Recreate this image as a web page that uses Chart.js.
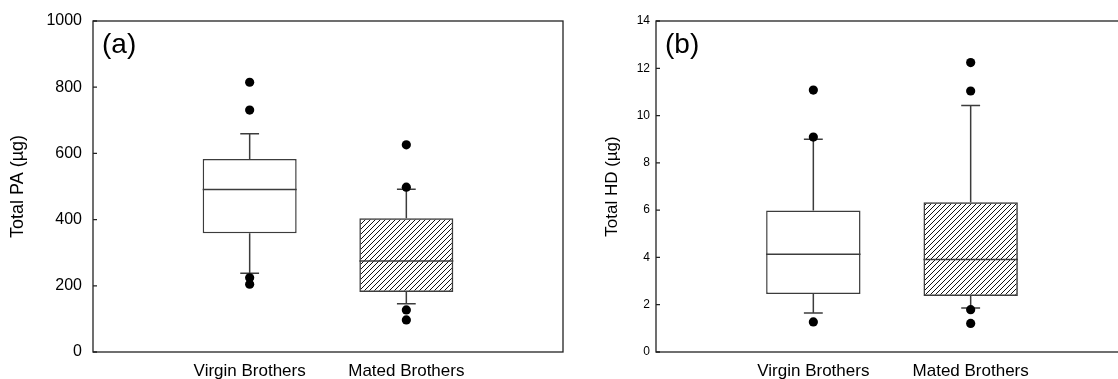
<!DOCTYPE html>
<html lang="en">
<head>
    <meta charset="UTF-8">
    <title>Total PA / HD box plots</title>
    <style>
        html, body { margin: 0; padding: 0; background: #fff; overflow: hidden; }
        body { width: 1118px; height: 379px; position: relative; }
        .panel { position: absolute; top: 0; height: 379px; }
    </style>
</head>
<body>
    <div class="panel" style="left:0;width:575px"><canvas id="chartA"></canvas></div>
    <div class="panel" style="left:580px;width:560px"><canvas id="chartB"></canvas></div>

    <script src="https://cdn.jsdelivr.net/npm/chart.js"></script>
    <script>
        // groups on the x axis
        var categories = ['Virgin Brothers', 'Mated Brothers']

        // box stats per group: [lower whisker, Q1, median, Q3, upper whisker]
        var paVirgin = [238, 359, 491, 583, 659]
        var paMated = [146, 181, 275, 404, 492]
        var paVirginOut = [815, 731, 224, 205]
        var paMatedOut = [626, 498, 127, 97]
        var paTicks = [0, 200, 400, 600, 800, 1000]

        var hdVirgin = [1.65, 2.45, 4.13, 5.98, 9.0]
        var hdMated = [1.86, 2.37, 3.91, 6.33, 10.43]
        var hdVirginOut = [11.08, 9.09, 1.27]
        var hdMatedOut = [12.24, 11.04, 1.79, 1.21]
        var hdTicks = [0, 2, 4, 6, 8, 10, 12, 14]

        var FONT = "'Liberation Sans', Arial, sans-serif"
        var LINE = '#3c3c3c'
        Chart.defaults.font.family = FONT
        Chart.defaults.color = '#000'

        function hatch() {
            var c = document.createElement('canvas')
            c.width = 5; c.height = 5
            var g = c.getContext('2d')
            g.strokeStyle = '#111'
            g.lineWidth = 1
            g.beginPath()
            g.moveTo(0, 5); g.lineTo(5, 0)
            g.moveTo(-1, 1); g.lineTo(1, -1)
            g.moveTo(4, 6); g.lineTo(6, 4)
            g.stroke()
            return g.createPattern(c, 'repeat')
        }

        // frame round the plot area, inward y ticks, panel letter
        var framePlugin = {
            id: 'frame',
            afterDatasetsDraw(chart, args, opts) {
                var a = chart.chartArea, ctx = chart.ctx, y = chart.scales.y
                ctx.save()
                ctx.strokeStyle = '#222'
                ctx.lineWidth = 1.3
                ctx.strokeRect(a.left, a.top, a.right - a.left, a.bottom - a.top)
                ctx.beginPath()
                y.ticks.forEach(t => {
                    var py = y.getPixelForValue(t.value)
                    ctx.moveTo(a.left, py)
                    ctx.lineTo(a.left + 4, py)
                })
                ctx.stroke()
                ctx.fillStyle = '#000'
                ctx.font = '28px ' + FONT
                ctx.textBaseline = 'alphabetic'
                ctx.fillText(opts.text, a.left + 9, a.top + 32)
                ctx.restore()
            }
        }

        function makePanel(id, groups, outs, ticks, o) {
            var boxes = [], lines = [], points = []
            groups.forEach((s, i) => {
                var c = i + 1
                boxes.push({x: c, y: [s[1], s[3]]})
                lines.push({x: c, y: s[3]}, {x: c, y: s[4]}, {x: c, y: null})
                lines.push({x: c, y: s[1]}, {x: c, y: s[0]}, {x: c, y: null})
                lines.push({x: c - 0.06, y: s[4]}, {x: c + 0.06, y: s[4]}, {x: c, y: null})
                lines.push({x: c - 0.06, y: s[0]}, {x: c + 0.06, y: s[0]}, {x: c, y: null})
                lines.push({x: c - 0.3, y: s[2]}, {x: c + 0.3, y: s[2]}, {x: c, y: null})
                outs[i].forEach(v => points.push({x: c, y: v}))
            })

            return new Chart(document.getElementById(id), {
                type: 'scatter',
                data: {
                    datasets: [
                        {
                            type: 'bar', data: boxes, order: 3,
                            backgroundColor: ['#fff', hatch()],
                            borderColor: LINE, borderWidth: 1.5, borderSkipped: false,
                            barPercentage: 0.75, categoryPercentage: 0.8
                        },
                        {
                            type: 'line', data: lines, order: 2,
                            borderColor: LINE, borderWidth: 1.5, pointRadius: 0,
                            spanGaps: false, fill: false, tension: 0
                        },
                        {
                            type: 'scatter', data: points, order: 1,
                            pointRadius: 4.6, backgroundColor: '#000', borderWidth: 0
                        }
                    ]
                },
                options: {
                    responsive: true,
                    maintainAspectRatio: false,
                    animation: false,
                    layout: {padding: {top: 21, right: o.padRight, bottom: 0, left: 0}},
                    plugins: {legend: {display: false}, tooltip: {enabled: false}, frame: {text: o.label}},
                    scales: {
                        x: {
                            type: 'linear', min: 0, max: 3, offset: false,
                            grid: {display: false, drawTicks: false},
                            border: {display: false},
                            afterBuildTicks: s => { s.ticks = [{value: 1}, {value: 2}] },
                            afterFit: s => { s.height = 27 },
                            ticks: {
                                padding: 9, maxRotation: 0, autoSkip: false,
                                font: {size: 17},
                                callback: v => categories[v - 1]
                            }
                        },
                        y: {
                            min: ticks[0], max: ticks[ticks.length - 1],
                            grid: {display: false, drawTicks: false},
                            border: {display: false},
                            afterBuildTicks: s => { s.ticks = ticks.map(v => ({value: v})) },
                            afterFit: s => { s.width = o.axisWidth },
                            ticks: {padding: o.tickPad, font: {size: o.tickSize}, callback: v => String(v)},
                            title: {
                                display: true, text: o.title,
                                font: {size: o.titleSize},
                                padding: {top: o.titlePad, bottom: 0}
                            }
                        }
                    }
                },
                plugins: [framePlugin]
            })
        }

        makePanel('chartA', [paVirgin, paMated], [paVirginOut, paMatedOut], paTicks, {
            label: '(a)', title: 'Total PA (µg)', titleSize: 18, titlePad: 7,
            tickSize: 16, tickPad: 11, axisWidth: 93, padRight: 12
        })
        makePanel('chartB', [hdVirgin, hdMated], [hdVirginOut, hdMatedOut], hdTicks, {
            label: '(b)', title: 'Total HD (µg)', titleSize: 17, titlePad: 22,
            tickSize: 12, tickPad: 6, axisWidth: 76, padRight: 12
        })
    </script>
</body>
</html>
